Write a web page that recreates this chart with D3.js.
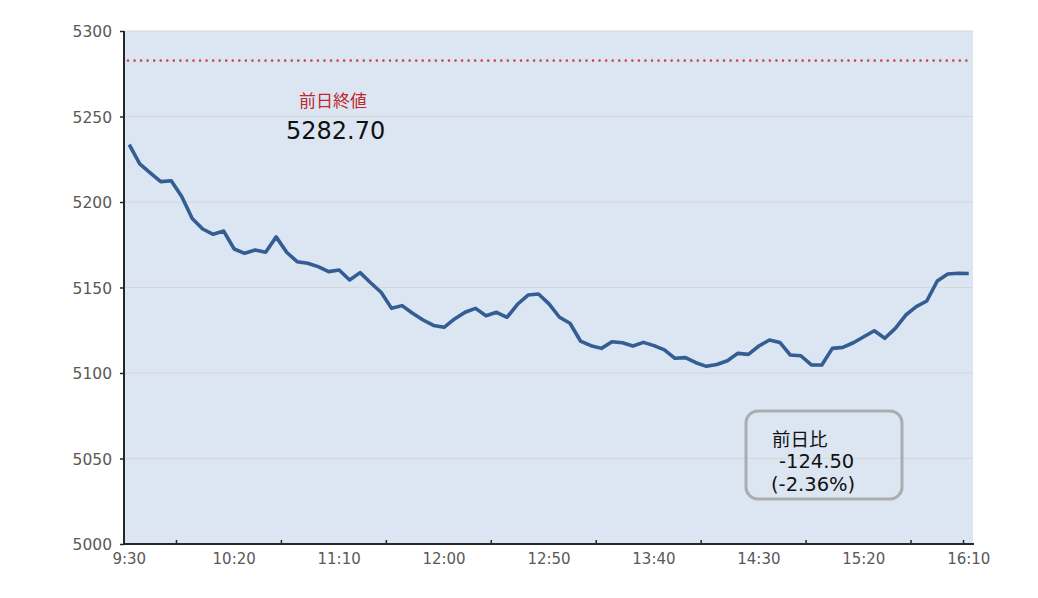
<!DOCTYPE html>
<html><head><meta charset="utf-8">
<script src="https://cdn.jsdelivr.net/npm/d3@7"></script>
<style>html,body{margin:0;padding:0;background:#fff;}svg{display:block;}</style>
</head><body>
<script>
const times = ["9:30","9:35","9:40","9:45","9:50","9:55","10:00","10:05","10:10","10:15",
"10:20","10:25","10:30","10:35","10:40","10:45","10:50","10:55","11:00","11:05",
"11:10","11:15","11:20","11:25","11:30","11:35","11:40","11:45","11:50","11:55",
"12:00","12:05","12:10","12:15","12:20","12:25","12:30","12:35","12:40","12:45",
"12:50","12:55","13:00","13:05","13:10","13:15","13:20","13:25","13:30","13:35",
"13:40","13:45","13:50","13:55","14:00","14:05","14:10","14:15","14:20","14:25",
"14:30","14:35","14:40","14:45","14:50","14:55","15:00","15:05","15:10","15:15",
"15:20","15:25","15:30","15:35","15:40","15:45","15:50","15:55","16:00","16:05","16:10"];
const values = [5233.5,5222.3,5217.0,5211.9,5212.4,5203.2,5190.4,5184.2,5181.1,5183.0,
5172.5,5170.0,5171.9,5170.6,5179.6,5170.6,5165.1,5164.2,5162.2,5159.3,
5160.2,5154.4,5158.7,5152.8,5147.2,5137.8,5139.4,5134.9,5131.0,5127.8,
5126.7,5131.6,5135.5,5137.8,5133.5,5135.5,5132.6,5140.2,5145.6,5146.2,
5140.4,5132.6,5129.1,5118.7,5116.0,5114.4,5118.3,5117.7,5115.8,5117.9,
5116.0,5113.5,5108.6,5109.0,5106.0,5103.9,5105.0,5107.2,5111.5,5110.9,
5115.8,5119.3,5117.9,5110.5,5110.1,5104.7,5104.7,5114.4,5115.0,5117.7,
5121.2,5124.7,5120.3,5126.1,5133.9,5138.8,5142.1,5153.8,5157.9,5158.3,5158.2];
const xTickLabels = ["9:30","10:20","11:10","12:00","12:50","13:40","14:30","15:20","16:10"];
const xTickMarks = ["9:55","10:45","11:35","12:25","13:15","14:05","14:55","15:45","16:10"];
const yTicks = [5000,5050,5100,5150,5200,5250,5300];
const prevClose = 5282.70;
const prevCloseLabel = "前日終値";
const changeLabel = "前日比";
const changeValue = "-124.50";
const changePct = "(-2.36%)";

const W = 1038, H = 598;
const L = 124, R = 974, T = 31, B = 544;
const numFont = "'DejaVu Sans', sans-serif";
const jpFont = "'Noto Sans CJK JP', sans-serif";

const svg = d3.select("body").append("svg").attr("width", W).attr("height", H);
const x = d3.scaleBand().domain(times).range([L, R]).padding(0);
const y = d3.scaleLinear().domain([5000, 5300]).range([B, T]);
const cx = t => x(t) + x.bandwidth() / 2;

svg.append("rect").attr("x", L).attr("y", T).attr("width", R - L - 1).attr("height", B - T).attr("fill", "#dce6f2");

// gridlines
svg.append("g").selectAll("line").data(yTicks.filter(v => v > 5000)).join("line")
  .attr("x1", L).attr("x2", R - 1).attr("y1", d => y(d)).attr("y2", d => y(d))
  .attr("stroke", "#d6d6d6").attr("stroke-width", 1);

// previous close dotted line
svg.append("line").attr("x1", L + 4).attr("x2", R - 3)
  .attr("y1", y(prevClose)).attr("y2", y(prevClose))
  .attr("stroke", "#d04545").attr("stroke-width", 2.6)
  .attr("stroke-linecap", "round").attr("stroke-dasharray", "0 6.55");

// line
svg.append("path").datum(values)
  .attr("d", d3.line().x((d, i) => cx(times[i])).y(d => y(d)))
  .attr("fill", "none").attr("stroke", "#335d93").attr("stroke-width", 3.6)
  .attr("stroke-linejoin", "round");

// y axis
const yAxis = d3.axisLeft(y).tickValues(yTicks).tickSize(4).tickPadding(8).tickFormat(d3.format("d"));
const gy = svg.append("g").attr("transform", `translate(${L},0)`).call(yAxis);
gy.select(".domain").attr("stroke", "#262626").attr("stroke-width", 2).attr("d", `M0,${T}V${B}`);
gy.selectAll(".tick line").attr("stroke", "#262626").attr("stroke-width", 1.5);
gy.selectAll("text").attr("font-family", numFont).attr("font-size", 15.5).attr("fill", "#595959").attr("dy", "0.36em");

// x axis
const gx = svg.append("g").attr("transform", `translate(0,${B})`);
gx.append("line").attr("x1", L - 1).attr("x2", R).attr("y1", 0).attr("y2", 0)
  .attr("stroke", "#262626").attr("stroke-width", 2);
gx.selectAll("line.tk").data(xTickMarks).join("line").attr("class", "tk")
  .attr("x1", d => x(d)).attr("x2", d => x(d)).attr("y1", 0).attr("y2", -4)
  .attr("stroke", "#262626").attr("stroke-width", 1.5);
gx.selectAll("text").data(xTickLabels).join("text")
  .attr("x", d => cx(d)).attr("y", 19.5).attr("text-anchor", "middle")
  .attr("font-family", numFont).attr("font-size", 15).attr("fill", "#595959").text(d => d);

// annotations
svg.append("text").attr("x", 299).attr("y", 107).attr("font-family", jpFont).attr("font-size", 17)
  .attr("fill", "#c0282d").text(prevCloseLabel);
svg.append("text").attr("x", 286).attr("y", 139).attr("font-family", numFont).attr("font-size", 24)
  .attr("fill", "#111").text(prevClose.toFixed(2));

svg.append("rect").attr("x", 746).attr("y", 411).attr("width", 156).attr("height", 88).attr("rx", 12)
  .attr("fill", "none").attr("stroke", "#a9adb0").attr("stroke-width", 3);
svg.append("text").attr("x", 772).attr("y", 446).attr("font-family", jpFont).attr("font-size", 18.5)
  .attr("fill", "#111").text(changeLabel);
svg.append("text").attr("x", 779).attr("y", 468).attr("font-family", numFont).attr("font-size", 19.5)
  .attr("fill", "#111").text(changeValue);
svg.append("text").attr("x", 771).attr("y", 491).attr("font-family", numFont).attr("font-size", 19.5)
  .attr("fill", "#111").text(changePct);
</script>
</body></html>
